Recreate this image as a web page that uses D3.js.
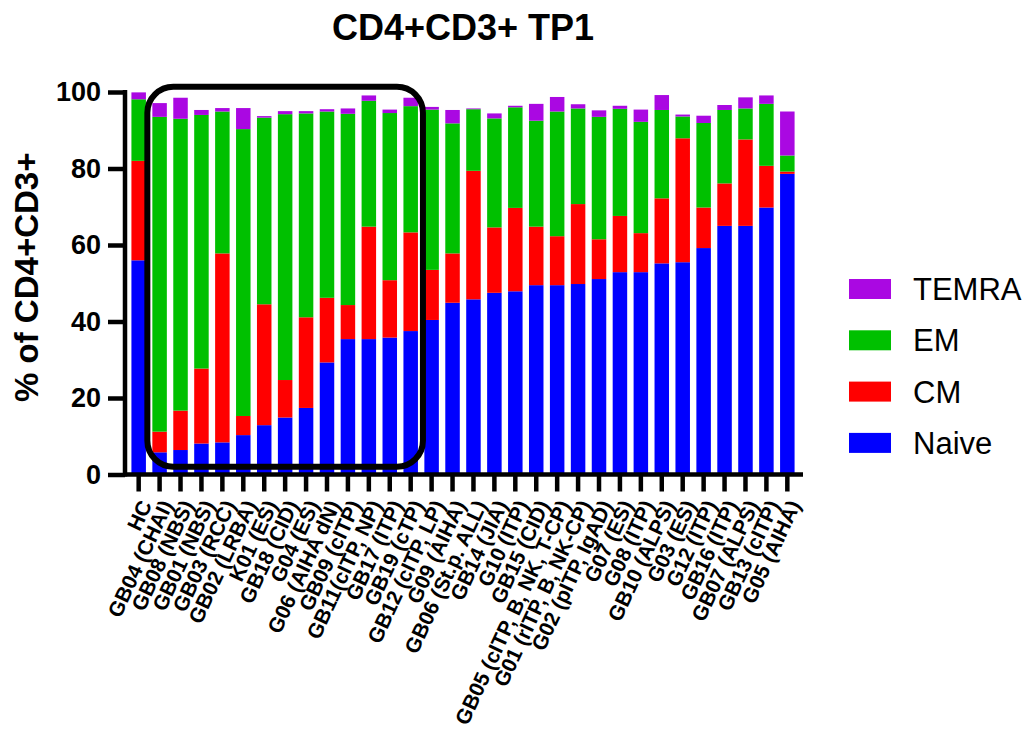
<!DOCTYPE html>
<html>
<head>
<meta charset="utf-8">
<script src="https://cdn.jsdelivr.net/npm/d3@7"></script>
<style>
  body { margin: 0; background: #fff; }
  text { font-family: "Liberation Sans", Arial, sans-serif; }
</style>
</head>
<body>
<div id="chart"></div>
<script>
// Subjects on the x axis
const categories = [
    'HC', 'GB04 (CHAI)', 'GB08 (NBS)', 'GB01 (NBS)', 'GB03 (RCC)', 'GB02 (LRBA)',
    'K01 (ES)', 'GB18 (CID)', 'G04 (ES)', 'G06 (AIHA dN)', 'GB09 (cITP)',
    'GB11(cITP, NP)', 'GB17 (ITP)', 'GB19 (cTP)', 'GB12 (cITP, LP)', 'G09 (AIHA)',
    'GB06 (St.p. ALL)', 'GB14 (JIA)', 'G10 (ITP)', 'GB15 (CID)',
    'GB05 (cITP, B, NK, T-CP)', 'G01 (rITP, B, NK-CP)', 'G02 (pITP, IgAD)',
    'G07 (ES)', 'G08 (ITP)', 'GB10 (ALPS)', 'G03 (ES)', 'G12 (ITP)', 'GB16 (ITP)',
    'GB07 (ALPS)', 'GB13 (cITP)', 'G05 (AIHA)'
];

// % of CD4+CD3+ per subset (stacked bottom to top)
const naive = [56.0, 5.8, 6.4, 8.1, 8.4, 10.3, 12.9, 14.9, 17.4, 29.3, 35.4, 35.4, 35.8, 37.5, 40.4, 44.9,
               45.8, 47.5, 47.9, 49.5, 49.5, 49.8, 51.1, 52.9, 52.9, 55.2, 55.5, 59.2, 65.0, 65.0, 69.8, 78.6];
const cm    = [26.0, 5.4, 10.3, 19.6, 49.4, 5.0, 31.6, 9.8, 23.7, 16.9, 8.9, 29.4, 15.0, 25.8, 13.1, 12.9,
               33.6, 17.1, 21.8, 15.3, 12.8, 20.9, 10.4, 14.7, 10.2, 17.0, 32.4, 10.6, 11.1, 22.6, 10.9, 0.6];
const em    = [16.1, 82.3, 76.3, 66.3, 37.1, 75.0, 48.8, 69.5, 53.3, 48.7, 50.0, 32.9, 43.7, 33.0, 41.9, 34.0,
               16.1, 28.5, 26.3, 27.7, 32.6, 25.0, 32.0, 28.0, 29.1, 23.1, 5.7, 22.1, 19.2, 8.1, 16.2, 4.2];
const temra = [1.8, 3.6, 5.5, 1.3, 0.9, 5.5, 0.4, 0.8, 0.6, 0.6, 1.4, 1.4, 0.9, 2.2, 0.7, 3.5,
               0.2, 1.3, 0.4, 4.4, 3.8, 1.1, 1.7, 0.8, 3.2, 3.9, 0.5, 1.9, 1.3, 2.9, 2.2, 11.5];

const seriesKeys = ['Naive', 'CM', 'EM', 'TEMRA'];
const seriesColors = { Naive: '#0000ff', CM: '#ff0000', EM: '#00c000', TEMRA: '#aa08e2' };
const yTicks = [0, 20, 40, 60, 80, 100];

// highlighted group (box) spans these subjects
const boxFrom = 'GB04 (CHAI)';
const boxTo = 'GB19 (cTP)';

const width = 1024, height = 738;

const svg = d3.select('#chart')
    .append('svg')
    .attr('width', width)
    .attr('height', height);

// build table for the stack
const table = categories.map((c, i) => ({
    cat: c, Naive: naive[i], CM: cm[i], EM: em[i], TEMRA: temra[i]
}));
const stacked = d3.stack().keys(seriesKeys)(table);

// scales
const x = d3.scaleBand()
    .domain(categories)
    .range([125, 801])
    .padding(0.307);

const y = d3.scaleLinear()
    .domain([0, 100])
    .range([474.5, 92]);

// bars
svg.append('g')
    .selectAll('g')
    .data(stacked)
    .join('g')
    .attr('fill', d => seriesColors[d.key])
    .selectAll('rect')
    .data(d => d)
    .join('rect')
    .attr('x', d => x(d.data.cat))
    .attr('width', x.bandwidth())
    .attr('y', d => y(d[1]))
    .attr('height', d => y(d[0]) - y(d[1]));

// y axis
const yAxis = svg.append('g')
    .attr('transform', 'translate(125,0)')
    .call(d3.axisLeft(y).tickValues(yTicks).tickSize(17).tickPadding(7));
yAxis.select('.domain').attr('stroke-width', 4.5).attr('d', `M0,${y(100) - 2}V${y(0) + 2}`);
yAxis.selectAll('.tick line').attr('stroke-width', 4.5);
yAxis.selectAll('.tick text')
    .style('font-size', '27px')
    .style('font-weight', 'bold')
    .attr('fill', '#000');

// x axis
const xAxis = svg.append('g')
    .attr('transform', `translate(0,${y(0)})`)
    .call(d3.axisBottom(x).tickSize(17).tickSizeOuter(0));
xAxis.select('.domain').attr('stroke-width', 4.5).attr('d', `M123,0H803`);
xAxis.selectAll('.tick line').attr('stroke-width', 4.5);
xAxis.selectAll('.tick text')
    .style('font-size', '21px')
    .style('font-weight', 'bold')
    .attr('fill', '#000')
    .attr('text-anchor', 'end')
    .attr('dy', null)
    .attr('y', 0)
    .attr('transform', 'translate(7,27) rotate(-65)')
    .attr('dominant-baseline', 'central');

// y axis title
svg.append('text')
    .attr('transform', `translate(38,${(y(0) + y(100)) / 2 - 6}) rotate(-90)`)
    .attr('text-anchor', 'middle')
    .style('font-size', '33px')
    .style('font-weight', 'bold')
    .text('% of CD4+CD3+');

// title
svg.append('text')
    .attr('x', (x.range()[0] + x.range()[1]) / 2)
    .attr('y', 40)
    .attr('text-anchor', 'middle')
    .style('font-size', '36px')
    .style('font-weight', 'bold')
    .text('CD4+CD3+ TP1');

// rounded box around the highlighted group
const bx0 = x(boxFrom) - 5;
const bx1 = x(boxTo) + x.bandwidth() + 5;
svg.append('rect')
    .attr('x', bx0)
    .attr('y', y(101.4))
    .attr('width', bx1 - bx0)
    .attr('height', y(2.0) - y(101.4))
    .attr('rx', 26)
    .attr('fill', 'none')
    .attr('stroke', '#000')
    .attr('stroke-width', 6);

// legend
const legend = svg.append('g')
    .attr('transform', 'translate(849,279)');
const legendItems = legend.selectAll('g')
    .data(seriesKeys.slice().reverse())
    .join('g')
    .attr('transform', (d, i) => `translate(0,${i * 51.3})`);
legendItems.append('rect')
    .attr('width', 42)
    .attr('height', 20)
    .attr('fill', d => seriesColors[d]);
legendItems.append('text')
    .attr('x', 64)
    .attr('y', 10)
    .attr('dy', '0.36em')
    .style('font-size', '31px')
    .text(d => d);
</script>
</body>
</html>
